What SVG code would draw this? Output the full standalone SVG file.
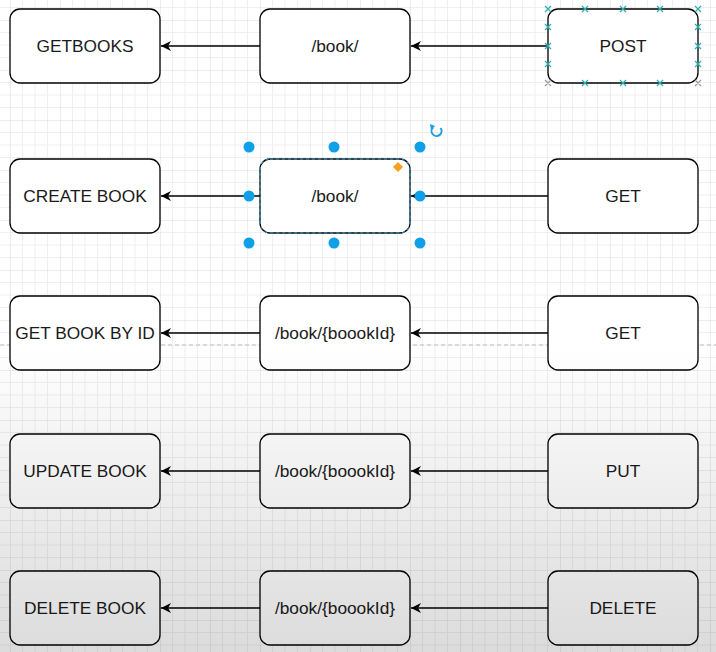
<svg xmlns="http://www.w3.org/2000/svg" width="716" height="652" viewBox="0 0 716 652">
<defs>
<pattern id="grid" patternUnits="userSpaceOnUse" x="10" y="20" width="50" height="50">
<path d="M12.5 0V50M25 0V50M37.5 0V50M0 12.5H50M0 25H50M0 37.5H50" stroke="#efefef" stroke-width="1" fill="none"/>
<path d="M0 0V50M0 0H50" stroke="#dcdcdc" stroke-width="1" fill="none"/>
</pattern>
<linearGradient id="shade" x1="0" y1="0" x2="0" y2="1">
<stop offset="0" stop-color="#000" stop-opacity="0"/>
<stop offset="1" stop-color="#000" stop-opacity="0.14"/>
</linearGradient>
<marker id="arr" viewBox="0 0 12 12" refX="11" refY="6" markerWidth="12" markerHeight="12" markerUnits="userSpaceOnUse" orient="auto">
<path d="M11 6L1 1L4 6L1 11Z" fill="#000"/>
</marker>
<g id="x">
<path d="M-3 -3L3 3M-3 3L3 -3" stroke="#2ab0b0" stroke-width="1.2"/>
</g>
</defs>
<style>
.box{fill:#fff;stroke:#000;stroke-width:1.3}
.t{font-family:"Liberation Sans",Arial,sans-serif;font-size:17.3px;fill:#1a1a1a;text-anchor:middle;dominant-baseline:central}
.c{stroke:#000;stroke-width:1.3;fill:none}
.h{fill:#0fa0e8}
</style>
<rect width="716" height="652" fill="#fff"/>
<rect width="716" height="652" fill="url(#grid)"/>
<line x1="0" y1="345" x2="716" y2="345" stroke="#cfcfcf" stroke-width="1.3" stroke-dasharray="4 3"/>

<g id="connectors">
<path class="c" d="M260 46H161" marker-end="url(#arr)"/>
<path class="c" d="M548 46H411" marker-end="url(#arr)"/>
<path class="c" d="M260 196H161" marker-end="url(#arr)"/>
<path class="c" d="M548 196H411" marker-end="url(#arr)"/>
<path class="c" d="M260 333H161" marker-end="url(#arr)"/>
<path class="c" d="M548 333H411" marker-end="url(#arr)"/>
<path class="c" d="M260 471H161" marker-end="url(#arr)"/>
<path class="c" d="M548 471H411" marker-end="url(#arr)"/>
<path class="c" d="M260 608H161" marker-end="url(#arr)"/>
<path class="c" d="M548 608H411" marker-end="url(#arr)"/>
</g>

<g id="n-getbooks"><rect class="box" x="10" y="9" width="150" height="74" rx="10"/><text class="t" x="85" y="46">GETBOOKS</text></g>
<g id="n-book1"><rect class="box" x="260" y="9" width="150" height="74" rx="10"/><text class="t" x="335" y="46">/book/</text></g>
<g id="n-post"><rect class="box" x="548" y="9" width="150" height="74" rx="10"/><text class="t" x="623" y="46">POST</text></g>

<g id="n-create"><rect class="box" x="10" y="159" width="150" height="74" rx="10"/><text class="t" x="85" y="196">CREATE BOOK</text></g>
<g id="n-book2"><rect class="box" x="260" y="159" width="150" height="74" rx="10"/><text class="t" x="335" y="196">/book/</text></g>
<g id="n-get1"><rect class="box" x="548" y="159" width="150" height="74" rx="10"/><text class="t" x="623" y="196">GET</text></g>

<g id="n-getbyid"><rect class="box" x="10" y="296" width="150" height="74" rx="10"/><text class="t" x="85" y="333">GET BOOK BY ID</text></g>
<g id="n-bookid1"><rect class="box" x="260" y="296" width="150" height="74" rx="10"/><text class="t" x="335" y="333">/book/{boookId}</text></g>
<g id="n-get2"><rect class="box" x="548" y="296" width="150" height="74" rx="10"/><text class="t" x="623" y="333">GET</text></g>

<g id="n-update"><rect class="box" x="10" y="434" width="150" height="74" rx="10"/><text class="t" x="85" y="471">UPDATE BOOK</text></g>
<g id="n-bookid2"><rect class="box" x="260" y="434" width="150" height="74" rx="10"/><text class="t" x="335" y="471">/book/{boookId}</text></g>
<g id="n-put"><rect class="box" x="548" y="434" width="150" height="74" rx="10"/><text class="t" x="623" y="471">PUT</text></g>

<g id="n-delete"><rect class="box" x="10" y="571" width="150" height="74" rx="10"/><text class="t" x="85" y="608">DELETE BOOK</text></g>
<g id="n-bookid3"><rect class="box" x="260" y="571" width="150" height="74" rx="10"/><text class="t" x="335" y="608">/book/{boookId}</text></g>
<g id="n-del"><rect class="box" x="548" y="571" width="150" height="74" rx="10"/><text class="t" x="623" y="608">DELETE</text></g>

<g id="selection">
<rect x="260" y="159" width="150" height="74" rx="10" fill="none" stroke="#29a8e0" stroke-width="1" stroke-dasharray="3 3"/>
<circle class="h" cx="249" cy="147" r="5.5"/>
<circle class="h" cx="334" cy="147" r="5.5"/>
<circle class="h" cx="420" cy="147" r="5.5"/>
<circle class="h" cx="249" cy="196" r="5.5"/>
<circle class="h" cx="420" cy="196" r="5.5"/>
<circle class="h" cx="249" cy="243" r="5.5"/>
<circle class="h" cx="334" cy="243" r="5.5"/>
<circle class="h" cx="420" cy="243" r="5.5"/>
<path d="M398 162L403 167L398 172L393 167Z" fill="#f5a020"/>
<path d="M440.5 128A5 5 0 1 1 433 127.5" fill="none" stroke="#1aa0e0" stroke-width="2"/>
<path d="M430 124L435 126L431 130Z" fill="#1aa0e0"/>
</g>

<g id="post-markers">
<use href="#x" x="548" y="9"/><use href="#x" x="585" y="9"/><use href="#x" x="623" y="9"/><use href="#x" x="660" y="9"/><use href="#x" x="698" y="9"/>
<use href="#x" x="585" y="83"/><use href="#x" x="623" y="83"/><use href="#x" x="660" y="83"/>
<use href="#x" x="548" y="27"/><use href="#x" x="548" y="46"/><use href="#x" x="548" y="64"/>
<use href="#x" x="698" y="27"/><use href="#x" x="698" y="46"/><use href="#x" x="698" y="64"/>
<path d="M545 80L551 86M545 86L551 80M695 80L701 86M695 86L701 80" stroke="#999" stroke-width="1.2"/>
</g>

<rect x="0" y="345" width="716" height="307" fill="url(#shade)"/>
</svg>
